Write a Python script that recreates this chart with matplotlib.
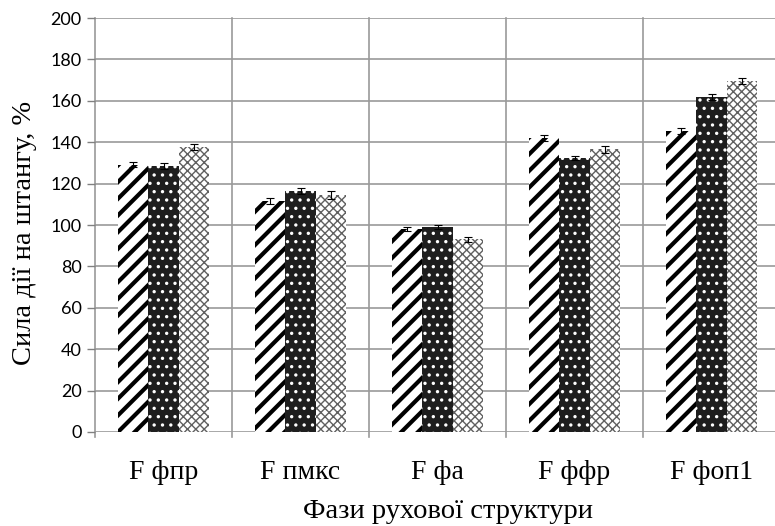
import numpy as np
import matplotlib
matplotlib.use("Agg")
import matplotlib.pyplot as plt

# --- data ---
categories = ["F фпр", "F пмкс", "F фа", "F ффр", "F фоп1"]
series_1 = [129, 111.5, 98, 142, 145.5]
series_2 = [128.5, 116.5, 99, 132.5, 162]
series_3 = [137.5, 114.5, 93, 136.5, 169.5]
err_1 = [1.2, 1.5, 1.0, 1.5, 1.5]
err_2 = [1.3, 1.5, 1.0, 1.0, 1.5]
err_3 = [1.5, 2.0, 1.2, 1.5, 1.5]
y_ticks = list(range(0, 201, 20))

plt.rcParams["hatch.linewidth"] = 2.5

fig = plt.figure(figsize=(7.75, 5.26), dpi=100)
ax = fig.add_axes([95 / 775, 1 - 432 / 526, 685 / 775, 414 / 526])

x = np.arange(len(categories))
w = 0.22

styles = [
    # values, errors, facecolor, hatch, hatch colour, hatch width
    (series_1, err_1, "white", "//", "black", 3.0),
    (series_2, err_2, "#1e1e1e", "..", "white", 1.2),
    (series_3, err_3, "white", "xxxx", "#606060", 1.0),
]

for i, (vals, errs, fc, hatch, hc, hlw) in enumerate(styles):
    bars = ax.bar(x + (i - 1) * w, vals, width=w, color=fc, edgecolor=hc,
                  hatch=hatch, linewidth=0, zorder=3)
    for b in bars:
        if hasattr(b, "set_hatch_linewidth"):
            b.set_hatch_linewidth(hlw)
    ax.errorbar(x + (i - 1) * w, vals, yerr=errs, fmt="none", ecolor="black",
                elinewidth=0.8, capsize=3, capthick=0.8, zorder=4)

ax.set_xlim(-0.5, len(categories) - 0.5)
ax.set_ylim(0, 200)
ax.set_yticks(y_ticks)
ax.set_xticks(x)
ax.set_xticklabels(categories, fontfamily="Liberation Serif", fontsize=20)
ax.tick_params(axis="x", length=0, pad=20)
ax.tick_params(axis="y", length=6, width=1, color="#808080", labelsize=13)
for lab in ax.get_yticklabels():
    lab.set_fontfamily("Lato")

# grid lines: horizontal at every tick, vertical at category boundaries
for yv in y_ticks:
    ax.axhline(yv, color="#9a9a9a", lw=1.2, zorder=1)
for xb in np.arange(-0.5, len(categories), 1.0):
    ax.plot([xb, xb], [-2.5, 200], color="#9a9a9a", lw=1.2, zorder=1,
            clip_on=False)

for s in ax.spines.values():
    s.set_visible(False)

ax.set_ylabel("Сила дії на штангу, %", fontfamily="Liberation Serif",
              fontsize=20.5)
ax.yaxis.set_label_coords((37 - 95) / 685, (432 - 233) / 414)
ax.set_xlabel("Фази рухової структури", fontfamily="Liberation Serif",
              fontsize=20.5)
ax.xaxis.set_label_coords((448 - 95) / 685, (432 - 499) / 414)

fig.savefig("out.png", dpi=100)
